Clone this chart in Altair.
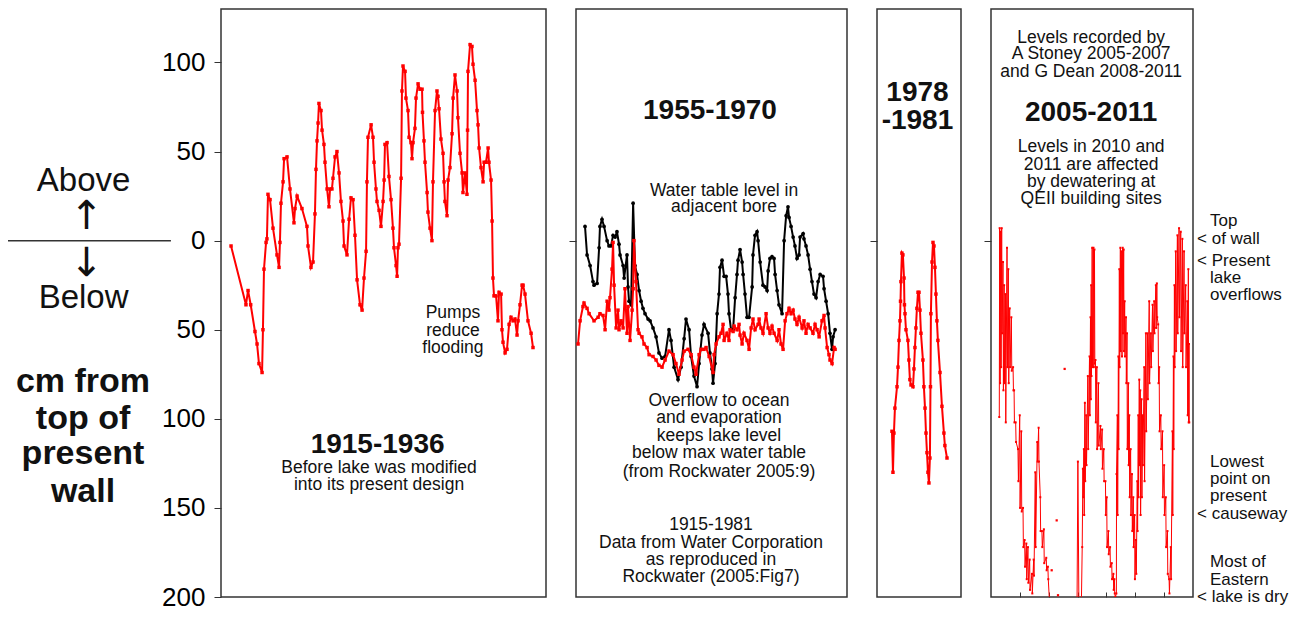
import altair as alt
import pandas as pd

FONT = "Liberation Sans"
RED = "#ff0000"
INK = "#111111"
FRAME = "#333333"

# ---------------- data (cm relative to top of present wall, + = above) ----------------
p1_year = [1915.18, 1916.19, 1916.33, 1916.51, 1916.80, 1916.94, 1917.07, 1917.28, 1917.34, 1917.41,
           1917.55, 1917.61, 1917.68, 1917.82, 1918.02, 1918.29, 1918.43, 1918.49, 1918.56, 1918.70,
           1918.77, 1918.97, 1919.17, 1919.44, 1919.51, 1919.65, 1919.98, 1920.32, 1920.39, 1920.59,
           1920.73, 1920.86, 1920.93, 1921.00, 1921.07, 1921.13, 1921.27, 1921.34, 1921.47, 1921.54,
           1921.68, 1921.81, 1921.88, 1922.01, 1922.08, 1922.22, 1922.35, 1922.49, 1922.62, 1922.76,
           1922.83, 1923.03, 1923.17, 1923.30, 1923.44, 1923.57, 1923.71, 1923.91, 1924.05, 1924.18,
           1924.32, 1924.38, 1924.45, 1924.66, 1924.79, 1924.86, 1924.99, 1925.06, 1925.20, 1925.33,
           1925.47, 1925.54, 1925.60, 1925.74, 1925.87, 1926.01, 1926.14, 1926.21, 1926.35, 1926.42,
           1926.48, 1926.55, 1926.69, 1926.75, 1926.82, 1926.96, 1927.02, 1927.16, 1927.23, 1927.36,
           1927.43, 1927.50, 1927.63, 1927.70, 1927.84, 1927.97, 1928.11, 1928.14, 1928.24, 1928.31,
           1928.45, 1928.51, 1928.65, 1928.78, 1928.85, 1928.99, 1929.12, 1929.19, 1929.26, 1929.39,
           1929.53, 1929.60, 1929.66, 1929.80, 1929.87, 1930.00, 1930.14, 1930.21, 1930.34, 1930.48,
           1930.54, 1930.68, 1930.82, 1930.88, 1931.02, 1931.15, 1931.19, 1931.22, 1931.36, 1931.49,
           1931.56, 1931.70, 1931.83, 1931.90, 1931.97, 1932.10, 1932.24, 1932.31, 1932.44, 1932.58,
           1932.64, 1932.78, 1932.85, 1932.91, 1932.98, 1933.12, 1933.25, 1933.32, 1933.46, 1933.52,
           1933.59, 1933.73, 1933.86, 1934.00, 1934.13, 1934.27, 1934.40, 1934.54, 1934.61, 1934.74,
           1934.88, 1934.95, 1935.08, 1935.28, 1935.49, 1935.62]
p1_level = [-3, -36, -28, -36, -51, -58, -69, -74, -50, -16,
            -1, 1, 26, 23, 7, -8, -15, -1, 21, 33,
            46, 47, 29, 10, 18, 25, 18, 8, -3, -15,
            -12, 15, 40, 56, 66, 77, 73, 62, 54, 44,
            29, 19, 29, 29, 35, 47, 50, 38, 22, 11,
            -3, -8, 12, 24, 23, 3, -22, -36, -39, -21,
            -6, 33, 58, 65, 58, 44, 29, 22, 17, 8,
            22, 34, 54, 55, 36, 23, 7, -4, -14, -20,
            -4, -2, 35, 84, 98, 95, 80, 73, 58, 55,
            46, 55, 63, 80, 88, 85, 85, 72, 56, 44,
            27, 16, 7, 0, 33, 73, 84, 81, 74, 57,
            49, 33, 22, 14, 34, 41, 60, 80, 93, 84,
            69, 49, 38, 27, 38, 26, 62, 95, 110, 109,
            99, 90, 73, 65, 52, 41, 33, 44, 44, 52,
            44, 34, 11, -21, -31, -31, -45, -29, -30, -50,
            -57, -63, -61, -47, -43, -45, -44, -53, -45, -36,
            -25, -25, -30, -45, -52, -60]

p2_bore_year = [1955.41, 1955.53, 1955.71, 1955.88, 1955.94, 1956.12, 1956.24, 1956.29, 1956.41, 1956.53,
                1956.71, 1956.82, 1956.94, 1957.06, 1957.18, 1957.29, 1957.41, 1957.47, 1957.65, 1957.71,
                1957.88, 1957.94, 1958.00, 1958.12, 1958.24, 1958.35, 1958.47, 1958.59, 1958.71, 1958.82,
                1958.94, 1959.12, 1959.24, 1959.41, 1959.59, 1959.76, 1959.94, 1960.12, 1960.35, 1960.47,
                1960.65, 1960.88, 1961.06, 1961.24, 1961.35, 1961.53, 1961.65, 1961.82, 1962.00, 1962.12,
                1962.29, 1962.41, 1962.65, 1962.76, 1962.88, 1962.94, 1963.06, 1963.18, 1963.29, 1963.35,
                1963.47, 1963.59, 1963.71, 1963.82, 1963.88, 1964.00, 1964.12, 1964.24, 1964.35, 1964.41,
                1964.53, 1964.65, 1964.71, 1964.82, 1964.94, 1965.06, 1965.24, 1965.29, 1965.41, 1965.53,
                1965.59, 1965.71, 1965.88, 1966.00, 1966.12, 1966.18, 1966.29, 1966.41, 1966.53, 1966.59,
                1966.71, 1966.82, 1967.00, 1967.12, 1967.24, 1967.35, 1967.41, 1967.53, 1967.65, 1967.76,
                1967.88, 1968.00, 1968.06, 1968.24, 1968.29, 1968.41, 1968.53, 1968.65, 1968.76, 1968.88,
                1969.00, 1969.12, 1969.24, 1969.41, 1969.47, 1969.59, 1969.71, 1969.82, 1969.94, 1970.00,
                1970.12]
p2_bore_level = [8, -8, -14, -23, -25, -24, -4, 8, 12, 8,
                 0, -3, -3, 3, 2, 5, -2, -8, -14, -21,
                 -8, -26, -34, -36, 21, -14, -19, -28, -34, -38,
                 -41, -44, -45, -49, -54, -63, -66, -65, -50, -56,
                 -71, -78, -71, -55, -44, -50, -65, -76, -82, -69,
                 -53, -47, -52, -63, -72, -80, -69, -41, -30, -15,
                 -11, -20, -20, -30, -41, -50, -50, -32, -19, -11,
                 -5, -12, -19, -30, -43, -43, -26, -8, 3, 5,
                 0, -12, -25, -26, -28, -17, -10, -9, -10, -19,
                 -28, -36, -41, 0, 14, 19, 13, 8, 2, -3,
                 -10, -8, 2, 4, 1, -3, -8, -16, -23, -30,
                 -32, -23, -19, -20, -27, -34, -41, -52, -61, -54,
                 -50]

p2_lake_year = [1955.00, 1955.12, 1955.29, 1955.35, 1955.53, 1955.65, 1955.94, 1956.18, 1956.29, 1956.47,
                1956.59, 1956.71, 1956.82, 1956.88, 1957.00, 1957.06, 1957.12, 1957.24, 1957.35, 1957.41,
                1957.53, 1957.65, 1957.76, 1957.88, 1957.94, 1958.06, 1958.18, 1958.24, 1958.29, 1958.41,
                1958.53, 1958.59, 1958.76, 1958.88, 1959.06, 1959.18, 1959.41, 1959.59, 1959.76, 1959.94,
                1960.12, 1960.35, 1960.59, 1960.76, 1960.94, 1961.12, 1961.24, 1961.47, 1961.65, 1961.82,
                1961.94, 1962.12, 1962.24, 1962.41, 1962.53, 1962.71, 1962.94, 1963.00, 1963.12, 1963.29,
                1963.41, 1963.53, 1963.59, 1963.76, 1963.88, 1963.94, 1964.12, 1964.18, 1964.35, 1964.47,
                1964.53, 1964.65, 1964.76, 1964.94, 1965.06, 1965.18, 1965.29, 1965.41, 1965.59, 1965.65,
                1965.76, 1965.88, 1966.06, 1966.18, 1966.29, 1966.41, 1966.53, 1966.71, 1966.82, 1966.94,
                1967.06, 1967.18, 1967.29, 1967.41, 1967.53, 1967.65, 1967.76, 1967.88, 1968.00, 1968.18,
                1968.29, 1968.41, 1968.53, 1968.65, 1968.82, 1968.94, 1969.06, 1969.18, 1969.35, 1969.47,
                1969.53, 1969.65, 1969.76, 1969.82, 1969.94, 1970.06, 1970.12]
p2_lake_level = [-58, -45, -37, -35, -38, -41, -45, -43, -41, -42,
                 -50, -34, -39, -32, -16, -1, -25, -49, -39, -50,
                 -45, -49, -27, -52, -37, -56, -39, -27, 0, -23,
                 -50, -52, -54, -58, -60, -64, -65, -67, -70, -71,
                 -67, -62, -64, -69, -75, -67, -62, -61, -64, -71,
                 -75, -64, -61, -61, -60, -65, -74, -64, -58, -54,
                 -52, -47, -56, -52, -56, -50, -51, -48, -50, -47,
                 -53, -58, -52, -56, -61, -49, -44, -50, -47, -44,
                 -49, -52, -41, -49, -52, -48, -52, -56, -50, -58,
                 -61, -45, -41, -38, -41, -39, -44, -47, -43, -49,
                 -45, -52, -47, -49, -52, -47, -50, -54, -45, -42,
                 -49, -60, -64, -67, -69, -60, -61]

p3_year = [1977.93, 1978.00, 1978.07, 1978.14, 1978.29, 1978.36, 1978.43, 1978.50, 1978.54, 1978.57, 1978.64,
           1978.71, 1978.79, 1978.82, 1978.86, 1978.93, 1979.07, 1979.14, 1979.21, 1979.29, 1979.43,
           1979.50, 1979.57, 1979.64, 1979.71, 1979.79, 1979.86, 1979.93, 1980.00, 1980.14, 1980.21,
           1980.29, 1980.36, 1980.43, 1980.50, 1980.57, 1980.64, 1980.68, 1980.71, 1980.79, 1980.86,
           1980.93, 1981.00, 1981.07, 1981.14, 1981.21, 1981.36, 1981.50, 1981.64, 1981.71, 1981.86]
p3_level = [-107, -130, -108, -94, -82, -71, -56, -45, -34, -23, -7,
            -8, -21, -36, -41, -50, -56, -67, -78, -81, -82,
            -72, -60, -49, -38, -29, -29, -39, -52, -67, -82,
            -94, -108, -119, -130, -136, -122, -82, -41, -12, -1,
            -3, -15, -30, -45, -56, -74, -93, -108, -115, -122]

p4_year = [2005.287, 2005.300, 2005.315, 2005.335, 2005.350, 2005.370, 2005.385, 2005.415, 2005.430, 2005.455,
           2005.470, 2005.500, 2005.512, 2005.555, 2005.570, 2005.600, 2005.615, 2005.648, 2005.662, 2005.705,
           2005.720, 2005.765, 2005.778, 2005.800, 2005.812, 2005.855, 2005.868, 2005.935, 2005.950, 2005.995,
           2006.008, 2006.050, 2006.065, 2006.110, 2006.122, 2006.165, 2006.180, 2006.225, 2006.238, 2006.280,
           2006.295, 2006.340, 2006.352, 2006.420, 2006.432, 2006.478, 2006.490, 2006.535, 2006.548, 2006.603,
           2006.615, 2006.650, 2006.662, 2006.708, 2006.720, 2006.765, 2006.778, 2006.832, 2006.845, 2006.915,
           2006.928, 2006.972, 2006.985, 2007.034, 2007.500, 2007.977, 2008.011, 2008.046, 2008.069, 2008.126,
           2008.161, 2008.184, 2008.195, 2008.218, 2008.230, 2008.253, 2008.265, 2008.299, 2008.310, 2008.356,
           2008.368, 2008.414, 2008.425, 2008.448, 2008.460, 2008.471, 2008.482, 2008.506, 2008.518, 2008.552,
           2008.562, 2008.586, 2008.598, 2008.621, 2008.632, 2008.667, 2008.678, 2008.724, 2008.735, 2008.793,
           2008.805, 2008.851, 2008.862, 2008.908, 2008.920, 2008.966, 2008.978, 2009.011, 2009.022, 2009.069,
           2009.080, 2009.126, 2009.138, 2009.184, 2009.195, 2009.241, 2009.252, 2009.276, 2009.288, 2009.310,
           2009.345, 2009.350, 2009.379, 2009.390, 2009.414, 2009.425, 2009.448, 2009.460, 2009.483, 2009.494,
           2009.529, 2009.540, 2009.563, 2009.575, 2009.598, 2009.610, 2009.632, 2009.644, 2009.678, 2009.690,
           2009.713, 2009.724, 2009.759, 2009.770, 2009.793, 2009.805, 2009.839, 2009.850, 2009.885, 2009.897,
           2009.931, 2009.942, 2009.977, 2009.988, 2010.023, 2010.035, 2010.069, 2010.080, 2010.103, 2010.115,
           2010.138, 2010.150, 2010.172, 2010.184, 2010.218, 2010.230, 2010.253, 2010.264, 2010.310, 2010.322,
           2010.368, 2010.379, 2010.425, 2010.437, 2010.483, 2010.494, 2010.540, 2010.552, 2010.598, 2010.610,
           2010.655, 2010.667, 2010.713, 2010.724, 2010.747, 2010.759, 2010.793, 2010.805, 2010.828, 2010.840,
           2010.885, 2010.897, 2010.943, 2010.954, 2011.000, 2011.011, 2011.057, 2011.069, 2011.115, 2011.126,
           2011.172, 2011.184, 2011.230, 2011.241, 2011.287, 2011.298, 2011.322, 2011.333, 2011.356, 2011.368,
           2011.402, 2011.414, 2011.460, 2011.471, 2011.517, 2011.529, 2011.575, 2011.586, 2011.632, 2011.644,
           2011.690, 2011.701, 2011.747, 2011.759, 2011.805, 2011.816, 2011.839, 2011.850, 2011.862, 2011.870]
p4_level = [-99, 7, -80, 5, -71, 7, -52, -12, -84, -25,
            -80, -30, -102, -4, -71, -16, -80, -38, -71, -43,
            -73, -71, -84, -84, -102, -102, -113, -117, -135, -98,
            -150, -107, -152, -150, -172, -168, -183, -170, -190, -172,
            -192, -179, -196, -187, -198, -179, -188, -130, -172, -113,
            -124, -105, -124, -144, -163, -163, -172, -162, -181, -178,
            -185, -183, -190, -205, -215, -215, -124, -205, -212, -210,
            -172, -128, -144, -117, -154, -91, -135, -98, -126, -76,
            -117, -65, -98, -43, -89, -25, -76, -4, -71, -4,
            -71, -5, -69, -67, -102, -71, -117, -80, -115, -104,
            -117, -106, -128, -117, -135, -135, -154, -144, -172, -163,
            -176, -172, -183, -181, -190, -187, -196, -190, -198, -200,
            -198, -131, -98, -154, -65, -117, -16, -71, -4, -62,
            -6, -65, -4, -52, -5, -62, -34, -65, -43, -80,
            -52, -117, -80, -126, -98, -144, -117, -154, -131, -163,
            -144, -172, -154, -190, -168, -187, -135, -163, -98, -144,
            -78, -126, -84, -154, -89, -144, -98, -126, -71, -135,
            -52, -107, -52, -89, -34, -80, -52, -71, -36, -62,
            -34, -52, -25, -49, -24, -43, -47, -80, -71, -107,
            -98, -117, -107, -144, -126, -154, -144, -172, -163, -187,
            -190, -198, -172, -190, -107, -154, -65, -117, -25, -71,
            -6, -62, 3, -52, 7, -43, 5, -62, 1, -71,
            -6, -52, -25, -71, -34, -98, -16, -102, -58, -102]
p4_iso_year = [2007.103, 2007.276, 2007.322, 2007.552]
p4_iso_level = [-185, -157, -199, -72]

y_ticks = [100, 50, 0, -50, -100, -150, -200]
p4_year_ticks = [2006, 2007, 2008, 2009, 2010, 2011]

# ---------------- annotations (text, x in panel units, y in cm) ----------------
p1_small = [("Pumps", 1930.2, -40.5), ("reduce", 1930.2, -50.5), ("flooding", 1930.2, -60.5),
            ("Before lake was modified", 1925.2, -127.5), ("into its present design", 1925.2, -137.4)]
p1_bold = [("1915-1936", 1925.1, -114.7)]
p1_left = [("Above", 1905.2, 33.7), ("Below", 1905.2, -32.0)]
p1_arrows = [("\u2191", 1905.4, 13.0), ("\u2193", 1905.4, -13.0)]
p1_left_bold = [("cm from", 1905.16, -79.6), ("top of", 1905.16, -100.0),
                ("present", 1905.16, -120.0), ("wall", 1905.16, -141.0)]
p1_rule_x, p1_rule_x2 = [1900.08], [1911.11]

p2_bold = [("1955-1970", 1962.76, 73.0)]
p2_small = [("Water table level in", 1963.59, 28.1), ("adjacent bore", 1963.59, 18.7),
            ("Overflow to ocean", 1963.29, -89.8), ("and evaporation", 1963.29, -99.8),
            ("keeps lake level", 1963.29, -109.7), ("below max water table", 1963.29, -119.2),
            ("(from Rockwater 2005:9)", 1963.29, -129.7),
            ("1915-1981", 1962.82, -159.6), ("Data from Water Corporation", 1962.82, -169.5),
            ("as reproduced in", 1962.82, -179.5), ("Rockwater (2005:Fig7)", 1962.82, -188.9)]

p3_bold = [("1978", 1979.75, 82.9), ("-1981", 1979.75, 66.9)]

p4_small = [("Levels recorded by", 2008.47, 114.0), ("A Stoney 2005-2007", 2008.47, 104.5),
            ("and G Dean 2008-2011", 2008.47, 94.6),
            ("Levels in 2010 and", 2008.47, 52.5), ("2011 are affected", 2008.47, 42.5),
            ("by dewatering at", 2008.47, 33.1), ("QEII building sites", 2008.47, 23.1)]
p4_bold = [("2005-2011", 2008.47, 71.9)]
p4_side = [("Top", 2012.59, 11.0), ("< of wall", 2012.14, 1.0),
           ("< Present", 2012.14, -11.2), ("lake", 2012.59, -21.2), ("overflows", 2012.59, -30.6),
           ("Lowest", 2012.59, -124.1), ("point on", 2012.59, -133.6), ("present", 2012.59, -143.5),
           ("< causeway", 2012.14, -153.5),
           ("Most of", 2012.59, -180.1), ("Eastern", 2012.59, -190.6), ("< lake is dry", 2012.14, -200.0)]

# ---------------- layout ----------------
Y_DOM = [-200, 130]
X1 = [1914.5, 1936.5]
X2 = [1954.88, 1970.82]
X3 = [1976.86, 1982.86]
X4 = [2005.0, 2012.0]
H = 588


def enc(xdom, yaxis, xaxis=None):
    return dict(
        x=alt.X("x:Q", scale=alt.Scale(domain=xdom, nice=False, zero=False), axis=xaxis),
        y=alt.Y("y:Q", scale=alt.Scale(domain=Y_DOM, nice=False, zero=False), axis=yaxis),
    )


def series(xs, ys):
    return pd.DataFrame({"x": xs, "y": ys})


def text_layer(rows, e, size, weight="normal", align="center", font=FONT):
    df = pd.DataFrame(rows, columns=["t", "x", "y"])
    return alt.Chart(df).mark_text(font=font, fontSize=size, fontWeight=weight, align=align,
                                   baseline="middle", color=INK).encode(text="t:N", **e)


def line_layer(df, e, color, width, clip=False):
    return alt.Chart(df).mark_line(color=color, strokeWidth=width, clip=clip).encode(**e)


def point_layer(df, e, color, shape, size, clip=False):
    return alt.Chart(df).mark_point(color=color, fill=color, filled=True, shape=shape, size=size,
                                    opacity=1, clip=clip).encode(**e)


axis_y1 = alt.Axis(values=y_ticks, labelExpr="abs(datum.value)", labelFont=FONT, labelFontSize=26,
                   labelColor="black", labelPadding=9, tickSize=7, tickColor=FRAME, tickWidth=1,
                   domain=False, grid=False, title=None)
axis_y0 = alt.Axis(values=[0], labels=False, tickSize=7, tickColor=FRAME, tickWidth=1,
                   domain=False, grid=False, title=None)
axis_x4 = alt.Axis(values=p4_year_ticks, labels=False, tickSize=5, offset=-5, tickColor=FRAME,
                   tickWidth=1, domain=False, grid=False, title=None)

# Panel 1
e1 = enc(X1, axis_y1)
d1 = series(p1_year, p1_level)
rule_df = pd.DataFrame({"x": p1_rule_x, "x2": p1_rule_x2, "y": [0]})
p1 = alt.layer(
    alt.Chart(rule_df).mark_rule(color=FRAME, strokeWidth=1.5).encode(x2="x2:Q", **e1),
    line_layer(d1, e1, RED, 2),
    point_layer(d1, e1, RED, "square", 12),
    text_layer(p1_small, e1, 17.5),
    text_layer(p1_bold, e1, 28, "bold"),
    text_layer(p1_left, e1, 33),
    text_layer(p1_arrows, e1, 40, font="DejaVu Sans"),
    text_layer(p1_left_bold, e1, 34, "bold"),
).properties(width=325, height=H)

# Panel 2
e2 = enc(X2, axis_y0)
d2b = series(p2_bore_year, p2_bore_level)
d2l = series(p2_lake_year, p2_lake_level)
p2 = alt.layer(
    line_layer(d2b, e2, "black", 2),
    point_layer(d2b, e2, "black", "circle", 14),
    line_layer(d2l, e2, RED, 2),
    point_layer(d2l, e2, RED, "square", 12),
    text_layer(p2_small, e2, 17.5),
    text_layer(p2_bold, e2, 28, "bold"),
).properties(width=271, height=H)

# Panel 3
e3 = enc(X3, axis_y0)
d3 = series(p3_year, p3_level)
p3 = alt.layer(
    line_layer(d3, e3, RED, 2),
    point_layer(d3, e3, RED, "square", 12),
    text_layer(p3_bold, e3, 28, "bold"),
).properties(width=84, height=H)

# Panel 4
e4 = enc(X4, axis_y0, axis_x4)
d4 = series(p4_year, p4_level)
d4i = series(p4_iso_year, p4_iso_level)
p4 = alt.layer(
    line_layer(d4, e4, RED, 1, clip=True),
    point_layer(d4, e4, RED, "square", 4, clip=True),
    point_layer(d4i, e4, RED, "square", 5, clip=True),
    text_layer(p4_small, e4, 17.5),
    text_layer(p4_bold, e4, 28, "bold"),
    text_layer(p4_side, e4, 17, align="left"),
).properties(width=202, height=H)

chart = (
    alt.hconcat(p1, p2, p3, p4, spacing=20)
    .resolve_scale(x="independent", y="independent")
    .properties(padding={"left": -2, "top": 0, "right": 0, "bottom": 0}, background="white")
    .configure_view(stroke=FRAME, strokeWidth=1.5)
)

chart.save("out.html", embed_options={"renderer": "svg", "actions": False})
